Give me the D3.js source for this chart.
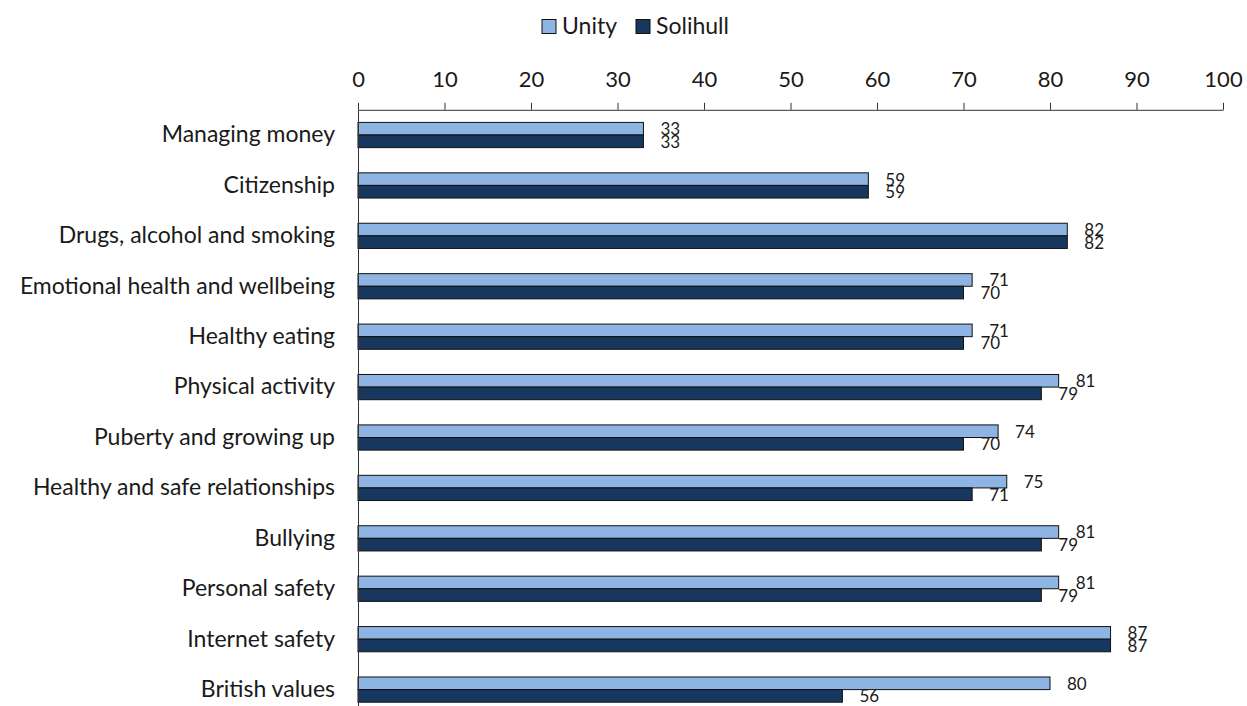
<!DOCTYPE html>
<html>
<head>
<meta charset="utf-8">
<script src="https://cdn.jsdelivr.net/npm/d3@7"></script>
<style>
  html, body { margin: 0; padding: 0; background: #fff; }
  svg { display: block; }
  text { font-family: Lato, "Open Sans", sans-serif; fill: #1a1a1a; }
</style>
</head>
<body>
<svg id="chart" width="1247" height="706"></svg>
<script>
// Topics covered, top to bottom
const categories = [
  "Managing money",
  "Citizenship",
  "Drugs, alcohol and smoking",
  "Emotional health and wellbeing",
  "Healthy eating",
  "Physical activity",
  "Puberty and growing up",
  "Healthy and safe relationships",
  "Bullying",
  "Personal safety",
  "Internet safety",
  "British values"
];
const seriesNames = ["Unity", "Solihull"];
const unityValues    = [33, 59, 82, 71, 71, 81, 74, 75, 81, 81, 87, 80];
const solihullValues = [33, 59, 82, 70, 70, 79, 70, 71, 79, 79, 87, 56];
const xTicks = [0, 10, 20, 30, 40, 50, 60, 70, 80, 90, 100];

const colors = { Unity: "#8EB4E3", Solihull: "#17375E" };

const rows = categories.map((c, i) => ({
  category: c,
  Unity: unityValues[i],
  Solihull: solihullValues[i]
}));

const svg = d3.select("#chart");
const plotLeft = 358, plotRight = 1223, plotTop = 109.8, plotBottom = 714.8;

const x = d3.scaleLinear().domain([0, 100]).range([plotLeft, plotRight]);
const y0 = d3.scaleBand().domain(categories).range([plotTop, plotBottom]).padding(0);
const y1 = d3.scaleBand().domain(seriesNames).range([0, y0.bandwidth()])
  .paddingInner(0).paddingOuter(1);

// Bars
const groups = svg.append("g").selectAll("g")
  .data(rows).join("g")
  .attr("transform", d => `translate(0,${y0(d.category)})`);

groups.selectAll("rect")
  .data(d => seriesNames.map(s => ({ s, v: d[s] })))
  .join("rect")
  .attr("x", x(0))
  .attr("y", d => y1(d.s))
  .attr("width", d => x(d.v) - x(0))
  .attr("height", y1.bandwidth())
  .attr("fill", d => colors[d.s])
  .attr("stroke", "#111")
  .attr("stroke-width", 1);

// Value labels
groups.selectAll("text.val")
  .data(d => seriesNames.map(s => ({ s, v: d[s] })))
  .join("text")
  .attr("class", "val")
  .attr("x", d => x(d.v) + 17)
  .attr("y", d => y1(d.s) + y1.bandwidth() / 2)
  .attr("dy", "0.38em")
  .style("font-size", "17px")
  .text(d => d.v);

// Top value axis
const xAxis = svg.append("g")
  .attr("transform", `translate(0,${plotTop})`)
  .call(d3.axisTop(x).tickValues(xTicks).tickSize(7).tickSizeOuter(0).tickPadding(15.5));
xAxis.select(".domain").attr("stroke", "#333");
xAxis.selectAll(".tick line").attr("stroke", "#333");
xAxis.selectAll(".tick text").style("font-size", "22px").attr("fill", "#1a1a1a");

// Category axis
const yAxis = svg.append("g")
  .attr("transform", `translate(${plotLeft},0)`)
  .call(d3.axisLeft(y0).tickSize(0).tickPadding(23));
yAxis.select(".domain").attr("stroke", "#333");
yAxis.selectAll(".tick text").style("font-size", "23px").attr("fill", "#1a1a1a");

// Legend
const legendItems = [
  { name: "Unity", x: 542 },
  { name: "Solihull", x: 636 }
];
const legend = svg.append("g");
legendItems.forEach(item => {
  legend.append("rect")
    .attr("x", item.x).attr("y", 19.5)
    .attr("width", 14).attr("height", 14)
    .attr("fill", colors[item.name])
    .attr("stroke", "#111").attr("stroke-width", 1);
  legend.append("text")
    .attr("x", item.x + 20).attr("y", 33.5)
    .style("font-size", "23px")
    .text(item.name);
});
</script>
</body>
</html>
